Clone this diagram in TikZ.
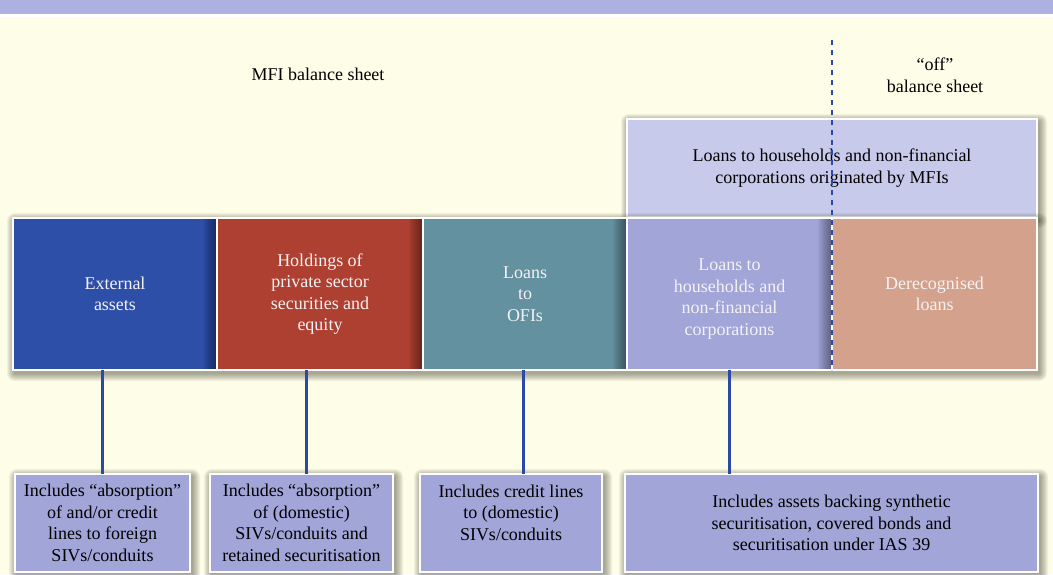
\documentclass[tikz,border=0pt]{standalone}
\usepackage{fontspec}
\setmainfont{Liberation Serif}
\usetikzlibrary{calc}
\definecolor{band}{HTML}{ADB1E1}
\definecolor{cream}{HTML}{FEFDE8}
\definecolor{cblue}{HTML}{2D4FA8}
\definecolor{cred}{HTML}{AE4032}
\definecolor{cteal}{HTML}{6391A0}
\definecolor{clav}{HTML}{A1A5D8}
\definecolor{cpeach}{HTML}{D4A28C}
\definecolor{ctop}{HTML}{C8CAEB}
\definecolor{ctxt}{HTML}{F4F2F4}
\definecolor{cline}{HTML}{2B4AA8}
\definecolor{shcol}{HTML}{3A3A28}
\newcommand{\softshadow}[4]{%
  \foreach \k in {1,...,8}{%
    \fill[shcol,opacity=0.065,rounded corners=\k pt] (#1-\k+2,#2-\k+3) rectangle (#3+\k+2,#4+\k+3);}}
\newcommand{\rightdark}[1]{%
  \foreach \i in {2,...,14}{%
    \fill[black,opacity=0.03] ([xshift=-\i pt,yshift=-0.6pt]#1.north east) rectangle ([xshift=-0.6pt,yshift=0.6pt]#1.south east);}}
\begin{document}
\begin{tikzpicture}[x=1pt,y=-1pt,
  txt/.style={font=\fontsize{18}{21.5}\selectfont, align=center, inner sep=0pt},
  boxbase/.style={txt, draw=white, line width=1.2pt, outer sep=0pt},
  mainbox/.style={boxbase, text=ctxt, minimum height=152pt},
  notebox/.style={boxbase, fill=clav, text=black, minimum height=98pt},
  conn/.style={draw=cline, line width=3pt},
  dashline/.style={draw=cline, line width=2pt, dash pattern=on 5pt off 5pt}
]
\useasboundingbox (0,0) rectangle (1053,574);
\fill[white] (0,0) rectangle (1053,574);
\fill[band] (0,0) rectangle (1053,14);
\fill[cream] (0,17) rectangle (1053,574);

% titles
\node[txt] (mfi) at (318,74) {MFI balance sheet};
\node[txt] (off) at (935,75) {“off”\\balance sheet};

% top box
\softshadow{627}{119}{1037}{217}
\node[boxbase, fill=ctop, text=black, minimum width=410pt, minimum height=98pt] (top) at (832,168)
  {Loans to households and non-financial\\corporations originated by MFIs};

% main row
\softshadow{13}{218}{1037}{370}
\node[mainbox, fill=cblue, minimum width=204pt] (ext) at (115,294) {External\\assets};
\node[mainbox, fill=cred, minimum width=206pt] (hold) at (320,294) {Holdings of\\private sector\\securities and\\equity};
\node[mainbox, fill=cteal, minimum width=204pt] (ofi) at (525,294) {Loans\\to\\OFIs};
\node[mainbox, fill=clav, minimum width=205pt] (hh) at (729.5,294) {\mbox{}\\Loans to\\households and\\non-financial\\corporations};
\node[mainbox, fill=cpeach, minimum width=205pt] (der) at (934.5,294) {Derecognised\\loans};
\rightdark{ext}
\rightdark{hold}
\rightdark{ofi}
\rightdark{hh}

% bottom notes
\softshadow{15}{474}{190}{572}
\softshadow{210}{474}{393}{572}
\softshadow{420}{474}{602}{572}
\softshadow{625}{474}{1038}{572}
\node[notebox, minimum width=175pt] (n1) at (102.5,523) {Includes “absorption”\\of and/or credit\\lines to foreign\\SIVs/conduits};
\node[notebox, minimum width=183pt] (n2) at (301.5,523) {Includes “absorption”\\of (domestic)\\SIVs/conduits and\\retained securitisation};
\node[notebox, minimum width=182pt] (n3) at (511,523) {Includes credit lines\\to (domestic)\\SIVs/conduits\\\mbox{}};
\node[notebox, minimum width=413pt] (n4) at (831.5,523) {Includes assets backing synthetic\\securitisation, covered bonds and\\securitisation under IAS 39};

% connectors
\draw[conn] (n1.north) -- (n1.north |- ext.south);
\draw[conn] ([xshift=-14pt]hold.south) -- ([xshift=-14pt]hold.south |- n2.north);
\draw[conn] ([xshift=-2pt]ofi.south) -- ([xshift=-2pt]ofi.south |- n3.north);
\draw[conn] (hh.south) -- (hh.south |- n4.north);

% dashed divider
\coordinate (dtop) at (832,40);
\draw[dashline] (dtop) -- (der.south west);
\end{tikzpicture}
\end{document}
